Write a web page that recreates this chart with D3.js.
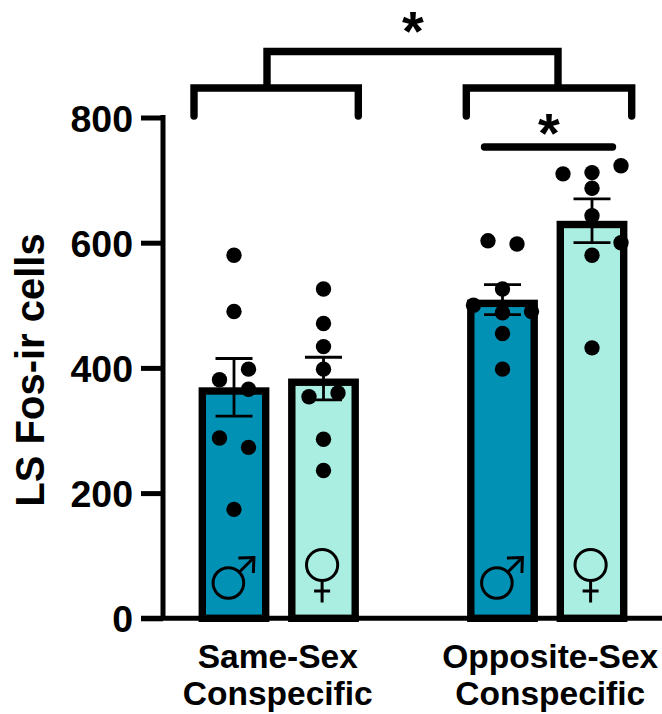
<!DOCTYPE html>
<html>
<head>
<meta charset="utf-8">
<script src="https://cdn.jsdelivr.net/npm/d3@7"></script>
<style>
html,body{margin:0;padding:0;background:#fff;}
svg{display:block;}
text{font-family:"Liberation Sans",Arial,sans-serif;font-weight:700;fill:#000;}
</style>
</head>
<body>
<svg id="chart" width="662" height="714"></svg>
<script>
// ---- data ----
const barNames = ["Same male", "Same female", "Opposite male", "Opposite female"];
const barSlots = [0, 1, 3, 4];
const barSex = ["male", "female", "male", "female"];
const barColors = ["#0091B5", "#AAEEE2", "#0091B5", "#AAEEE2"];
const means = [369, 383, 509, 635];
const sems = [46, 34, 24, 35];
const points0 = [580, 490, 398, 381, 366, 288, 273, 174];
const points1 = [526, 471, 434, 398, 360, 354, 286, 236];
const points2 = [603, 598, 526, 500, 488, 490, 455, 398];
const points3 = [723, 710, 712, 687, 643, 600, 580, 432];
// swarm column of each point (-2..2), one list per bar
const columns0 = [0, 0, 1, -1, 1, -1, 1, 0];
const columns1 = [0, 0, 0, 0, 1, -1, 0, 0];
const columns2 = [-1, 1, 0, -2, 0, 2, 0, 0];
const columns3 = [2, -2, 0, 0, 0, 2, 0, 0];
const yTicks = [0, 200, 400, 600, 800];
const groupLabels = [["Same-Sex", "Conspecific"], ["Opposite-Sex", "Conspecific"]];
const groupSlots = [0.5, 3.5];
const yTitle = "LS Fos-ir cells";

const allPoints = [points0, points1, points2, points3];
const allColumns = [columns0, columns1, columns2, columns3];

// ---- scales ----
const svg = d3.select("#chart");
const y = d3.scaleLinear().domain([0, 800]).range([618.3, 117.5]);
const x = d3.scaleLinear().domain([0, 4]).range([234, 592]);
const swarm = d3.scaleLinear().domain([-1, 1]).range([-14.5, 14.5]);

const stroke = 7.4;
const barOuter = 70.8;

// ---- bars ----
barNames.forEach((name, i) => {
  const cx = x(barSlots[i]);
  svg.append("rect")
    .attr("x", cx - barOuter / 2 + stroke / 2)
    .attr("y", y(means[i]) + stroke / 2)
    .attr("width", barOuter - stroke)
    .attr("height", y(0) - y(means[i]) - stroke / 2)
    .attr("fill", barColors[i])
    .attr("stroke", "#000")
    .attr("stroke-width", stroke);
});

// ---- sex symbols ----
barNames.forEach((name, i) => {
  const cx = x(barSlots[i]);
  const g = svg.append("g").attr("fill", "none").attr("stroke", "#000").attr("stroke-width", 3);
  if (barSex[i] === "male") {
    const c = cx - 5.6, cy = 583;
    g.append("circle").attr("cx", c).attr("cy", cy).attr("r", 15.3);
    g.append("path").attr("d", d3.line()([[c + 10.8, cy - 10.8], [c + 25.5, cy - 25.5]]));
    g.append("path").attr("d", d3.line()([[c + 10, cy - 25], [c + 25.5, cy - 25.5], [c + 25, cy - 10]]));
  } else {
    const c = cx - 1.4, cy = 565;
    g.append("circle").attr("cx", c).attr("cy", cy).attr("r", 15.6);
    g.append("path").attr("d", d3.line()([[c, cy + 15.6], [c, cy + 37.5]]));
    g.append("path").attr("d", d3.line()([[c - 8, cy + 26], [c + 8, cy + 26]]));
  }
});

// ---- error bars ----
barNames.forEach((name, i) => {
  const cx = x(barSlots[i]);
  const g = svg.append("g").attr("stroke", "#000").attr("stroke-width", 2.8).attr("fill", "none");
  const hi = y(means[i] + sems[i]), lo = y(means[i] - sems[i]);
  g.append("path").attr("d", d3.line()([[cx, hi], [cx, lo]]));
  g.append("path").attr("d", d3.line()([[cx - 18.5, hi], [cx + 18.5, hi]]));
  g.append("path").attr("d", d3.line()([[cx - 18.5, lo], [cx + 18.5, lo]]));
});

// ---- points ----
allPoints.forEach((vals, i) => {
  svg.append("g").selectAll("circle").data(vals).join("circle")
    .attr("cx", (d, j) => x(barSlots[i]) + swarm(allColumns[i][j]))
    .attr("cy", d => y(d))
    .attr("r", 7.7)
    .attr("fill", "#000");
});

// ---- y axis ----
const yAxis = d3.axisLeft(y).tickValues(yTicks).tickSize(22).tickPadding(8).tickFormat(d3.format("d"));
const axisG = svg.append("g").attr("transform", "translate(163,0)").call(yAxis);
axisG.selectAll("path.domain").attr("stroke", "#000").attr("stroke-width", 5).attr("d", `M0,${y(800) - 2.5}V${y(0)}`);
axisG.selectAll(".tick line").attr("stroke", "#000").attr("stroke-width", 5);
axisG.selectAll(".tick text").style("font-size", "37.5px").attr("font-family", null).attr("dy", "0.36em");

// baseline, running off to the right
svg.append("path").attr("d", d3.line()([[141, y(0)], [662, y(0)]])).attr("stroke", "#000").attr("stroke-width", 5);

// ---- axis title ----
svg.append("text")
  .attr("transform", "translate(44,370) rotate(-90)")
  .attr("text-anchor", "middle")
  .style("font-size", "40px")
  .text(yTitle);

// ---- group labels ----
groupLabels.forEach((lines, i) => {
  lines.forEach((t, k) => {
    svg.append("text")
      .attr("x", x(groupSlots[i]) + (i === 1 ? 3 : -1))
      .attr("y", 668 + k * 37)
      .attr("text-anchor", "middle")
      .style("font-size", "33.5px")
      .text(t);
  });
});

// ---- significance brackets ----
const bracket = svg.append("g").attr("fill", "none").attr("stroke", "#000").attr("stroke-width", 7.4);
const lineGen = d3.line();
bracket.append("path").attr("stroke-linecap", "round").attr("stroke-linejoin", "miter")
  .attr("d", lineGen([[194, 116], [194, 88], [358.3, 88], [358.3, 116]]));
bracket.append("path").attr("stroke-linecap", "round").attr("stroke-linejoin", "miter")
  .attr("d", lineGen([[466.3, 116], [466.3, 88], [631.7, 88], [631.7, 116]]));
bracket.append("path").attr("stroke-linejoin", "miter")
  .attr("d", lineGen([[267, 88], [267, 51.5], [558, 51.5], [558, 88]]));
bracket.append("path").attr("stroke-linecap", "round")
  .attr("d", lineGen([[484.5, 147], [612.5, 147]]));

svg.append("text").attr("x", 413).attr("y", 50).attr("text-anchor", "middle").style("font-size", "56px").text("*");
svg.append("text").attr("x", 549).attr("y", 152).attr("text-anchor", "middle").style("font-size", "56px").text("*");
</script>
</body>
</html>
